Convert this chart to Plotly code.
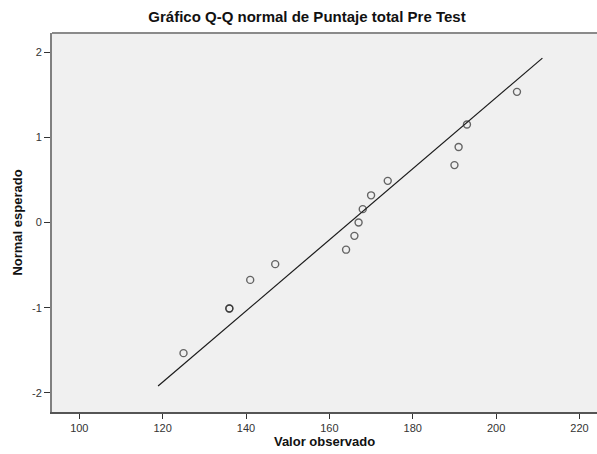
import plotly.graph_objects as go

# Observed values (Puntaje total Pre Test)
observed = [125, 136, 136, 141, 147, 164, 166, 167, 168, 170, 174, 190, 191, 193, 205]
# Expected normal values
expected = [-1.534, -1.010, -1.010, -0.674, -0.489, -0.319, -0.157, 0.0,
            0.157, 0.319, 0.489, 0.674, 0.887, 1.150, 1.534]
# Reference line end points
line_x = [118.9, 211.1]
line_y = [-1.92, 1.93]

x_ticks = [100, 120, 140, 160, 180, 200, 220]
y_ticks = [-2, -1, 0, 1, 2]

fig = go.Figure()
fig.add_trace(go.Scatter(
    x=line_x, y=line_y, mode="lines",
    line=dict(color="#1a1a1a", width=1.2), hoverinfo="skip", showlegend=False))
fig.add_trace(go.Scatter(
    x=observed, y=expected, mode="markers",
    marker=dict(symbol="circle-open", size=7, color="rgba(40,40,40,0.7)",
                line=dict(width=1.4, color="rgba(40,40,40,0.7)")),
    showlegend=False))

fig.update_layout(
    width=597, height=454,
    margin=dict(l=52, r=0, t=33, b=42),
    paper_bgcolor="white", plot_bgcolor="#F0F0F0",
    font=dict(family="Liberation Sans, Arial, sans-serif", color="#222"),
    title=dict(text="<b>Gráfico Q-Q normal de Puntaje total Pre Test</b>",
               x=307/597, xanchor="center", y=1 - 17/454, yanchor="middle",
               font=dict(size=15, color="#111")),
    xaxis=dict(range=[93.45, 224.2], tickvals=x_ticks, ticktext=[str(v) for v in x_ticks],
               showgrid=False, zeroline=False, showline=True, linecolor="#555",
               linewidth=2, mirror=False, ticks="outside", ticklen=5, tickcolor="#333",
               tickfont=dict(size=11, color="#333"),
               title=dict(text="<b>Valor observado</b>", font=dict(size=13, color="#111"),
                          standoff=3)),
    yaxis=dict(range=[-2.225, 2.225], tickvals=y_ticks, ticktext=[str(v) for v in y_ticks],
               showgrid=False, zeroline=False, showline=True, linecolor="#808080",
               linewidth=2, ticks="outside", ticklen=6, tickcolor="#333",
               tickfont=dict(size=11, color="#333"),
               title=dict(text="<b>Normal esperado</b>", font=dict(size=13, color="#111"),
                          standoff=6)),
)
# top frame line
fig.add_shape(type="line", xref="paper", yref="paper", x0=0, x1=1, y0=1, y1=1,
              line=dict(color="#8a8a8a", width=2))

fig.write_html("out.html", config={"displayModeBar": False},
               post_script="document.body.style.margin='0';document.body.style.overflow='hidden';")
